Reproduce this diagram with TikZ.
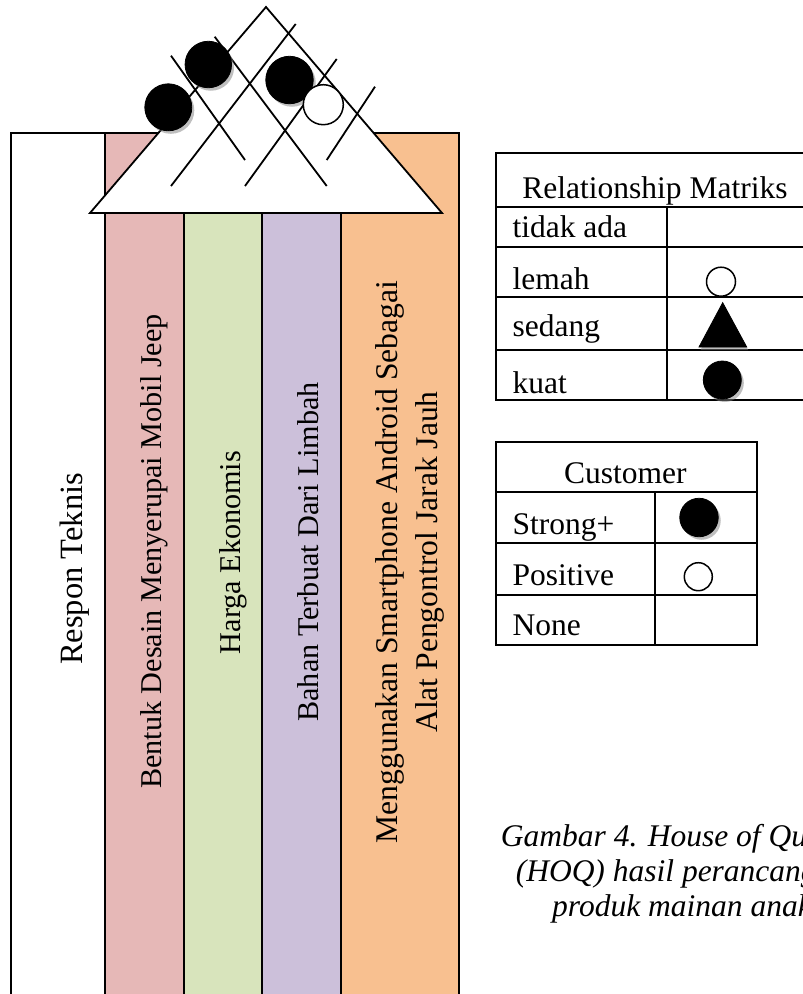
\documentclass[tikz,border=0pt]{standalone}
\usepackage{fontspec}
\setmainfont{Liberation Serif}
\usetikzlibrary{shadows}
\definecolor{pinkcol}{HTML}{E6B8B7}
\definecolor{greencol}{HTML}{D8E4BC}
\definecolor{purplecol}{HTML}{CCC0DA}
\definecolor{orangecol}{HTML}{F8C090}
\begin{document}
\begin{tikzpicture}[x=1pt, y=-1pt, line width=1.8pt]
    \tikzstyle{every node}=[inner sep=0pt]
    \tikzstyle{colname}=[rotate=90, anchor=base, font=\fontsize{30.2}{36}\selectfont]
    \tikzstyle{cell}=[anchor=base west, font=\fontsize{31.5}{36}\selectfont]
    \tikzstyle{tabhead}=[anchor=base, font=\fontsize{31.5}{36}\selectfont]
    \tikzstyle{caption}=[anchor=base, font=\fontsize{31.5}{35}\selectfont\itshape]
    \tikzstyle{kuat}=[circle, fill=black, draw=black, line width=0.8pt, drop shadow={shadow xshift=2.5pt, shadow yshift=-3pt}]
    \tikzstyle{sedang}=[fill=black, draw=black, line width=0.8pt, drop shadow={shadow xshift=1.5pt, shadow yshift=-3pt}]
    \tikzstyle{lemah}=[circle, fill=white, draw=black, line width=1.5pt]

\useasboundingbox (0,0) rectangle (803,994);
\clip (0,0) rectangle (803,994);

\foreach \a/\b/\c in {105/184/pinkcol, 184/262/greencol, 262/341/purplecol, 341/459/orangecol}
    \fill[\c] (\a,133) rectangle (\b,1000);
\draw (11,1000) -- (11,133) -- (459,133) -- (459,1000);
\foreach \x in {105,184,262,341}
    \draw (\x,133) -- (\x,1000);

\filldraw[fill=white] (90,213) -- (266,7) -- (442,213) -- cycle;
\draw (171,55.7) -- (245,160);
\draw (214.7,36.7) -- (326.7,186);
\draw (295.7,24) -- (171,186);
\draw (336.7,59) -- (245,186);
\draw (375,86.7) -- (326.7,160);

\node[kuat, minimum size=47pt]   (k1) at (168.3,107.3) {};
\node[kuat, minimum size=46.5pt] (k2) at (208.3,64.5)  {};
\node[kuat, minimum size=47.5pt] (k3) at (289.5,80)    {};
\node[lemah, minimum size=40pt]  (l1) at (323.3,104.7) {};

\node[colname, font=\fontsize{32.5}{38}\selectfont] (respon) at (82.5,569) {Respon Teknis};
\node[colname] (bentuk) at (161,551.5) {Bentuk Desain Menyerupai Mobil Jeep};
\node[colname] (harga)  at (240,552.5) {Harga Ekonomis};
\node[colname] (bahan)  at (318,552)   {Bahan Terbuat Dari Limbah};
\node[colname, anchor=center, align=center, font=\fontsize{31.6}{40}\selectfont] (android) at (409.6,562)
    {Menggunakan Smartphone Android Sebagai\\Alat Pengontrol Jarak Jauh};

\draw (810,153) -- (496,153) -- (496,400) -- (810,400);
\foreach \y in {206.7,246.7,297.3,350}
    \draw (496,\y) -- (810,\y);
\draw (666.7,206.7) -- (666.7,400);
\node[tabhead] (relhead) at (655,198) {Relationship Matriks};
\node[cell] (tidakada) at (511.7,237.3) {tidak ada};
\node[cell] (lemahtx)  at (511.7,289.3) {lemah};
\node[cell] (sedangtx) at (511.7,336.7) {sedang};
\node[cell] (kuattx)   at (511.7,393.3) {kuat};
\node[lemah, minimum size=29pt] (lm) at (721,281.7) {};
\path[sedang] (699,347) -- (722.7,302.7) -- (746.7,347) -- cycle;
\node[kuat, minimum size=38pt] (km) at (722.3,380) {};

\draw (496,441.7) rectangle (756.7,645);
\foreach \y in {492.3,543.3,595}
    \draw (496,\y) -- (756.7,\y);
\draw (655,492.3) -- (655,645);
\node[tabhead] (custhead) at (625.3,483.3) {Customer};
\node[cell] (strong)   at (511.7,534) {Strong+};
\node[cell] (positive) at (511.7,585) {Positive};
\node[cell] (none)     at (511.7,635) {None};
\node[kuat, minimum size=38.5pt] (sk) at (699,517.5) {};
\node[lemah, minimum size=28pt]  (pl) at (698.3,576.7) {};

\node[caption] (cap1) at (682,846.7) {Gambar 4. House of Quality};
\node[caption] (cap2) at (682,881.7) {(HOQ) hasil perancangan};
\node[caption] (cap3) at (682,916)   {produk mainan anak};
\end{tikzpicture}
\end{document}
